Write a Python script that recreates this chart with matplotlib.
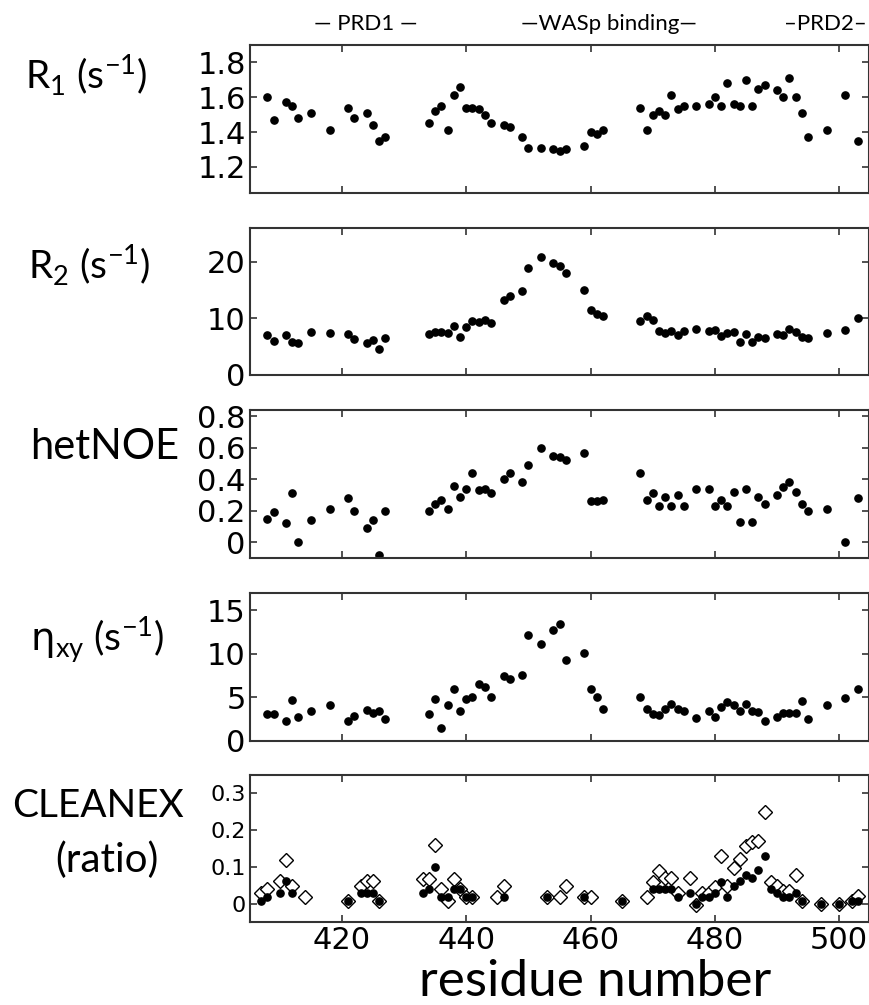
import numpy as np
import matplotlib
matplotlib.use("Agg")
import matplotlib.pyplot as plt

# residues shared by R1, R2, hetNOE and eta panels
res = [408, 409, 411, 412, 413, 415, 418, 421, 422, 424, 425, 426, 427,
       434, 435, 436, 437, 438, 439, 440, 441, 442, 443, 444, 446, 447, 449,
       450, 452, 454, 455, 456, 459, 460, 461, 462, 468, 469, 470, 471, 472,
       473, 474, 475, 477, 479, 480, 481, 482, 483, 484, 485, 486, 487, 488,
       490, 491, 492, 493, 494, 495, 498, 501, 503]

r1 = [1.60, 1.47, 1.57, 1.55, 1.48, 1.51, 1.41, 1.54, 1.48, 1.51, 1.44, 1.35, 1.37,
      1.45, 1.52, 1.55, 1.41, 1.61, 1.66, 1.54, 1.54, 1.53, 1.50, 1.45, 1.44, 1.43, 1.37,
      1.31, 1.31, 1.30, 1.29, 1.30, 1.32, 1.40, 1.39, 1.41, 1.54, 1.41, 1.50, 1.52, 1.50,
      1.61, 1.53, 1.55, 1.55, 1.56, 1.60, 1.55, 1.68, 1.56, 1.55, 1.70, 1.55, 1.65, 1.67,
      1.64, 1.60, 1.71, 1.60, 1.51, 1.37, 1.41, 1.61, 1.35]

r2 = [7.1, 6.1, 7.0, 5.9, 5.6, 7.6, 7.5, 7.2, 6.3, 5.6, 6.2, 4.6, 6.6,
      7.2, 7.6, 7.6, 7.4, 8.7, 6.8, 8.5, 9.5, 9.3, 9.8, 9.2, 13.3, 14.0, 14.8,
      18.9, 20.8, 19.8, 19.3, 18.0, 15.0, 11.5, 10.8, 10.5, 9.5, 10.5, 9.7, 7.8, 7.4,
      7.7, 7.0, 7.8, 8.1, 7.8, 8.0, 6.9, 7.4, 7.6, 5.8, 7.3, 5.8, 6.7, 6.6,
      7.2, 7.1, 8.1, 7.6, 6.7, 6.6, 7.5, 8.0, 10.0]

noe = [0.15, 0.19, 0.12, 0.31, 0.00, 0.14, 0.21, 0.28, 0.20, 0.09, 0.14, -0.08, 0.20,
       0.20, 0.24, 0.27, 0.21, 0.36, 0.29, 0.34, 0.44, 0.33, 0.34, 0.31, 0.40, 0.44, 0.38,
       0.49, 0.60, 0.55, 0.54, 0.52, 0.57, 0.26, 0.26, 0.27, 0.44, 0.27, 0.31, 0.23, 0.29,
       0.23, 0.30, 0.23, 0.34, 0.34, 0.23, 0.27, 0.23, 0.32, 0.13, 0.34, 0.13, 0.29, 0.24,
       0.30, 0.35, 0.38, 0.32, 0.24, 0.20, 0.21, 0.00, 0.28]

eta = [3.1, 3.1, 2.3, 4.7, 2.8, 3.4, 4.1, 2.3, 2.9, 3.6, 3.2, 3.5, 2.5,
       3.1, 4.8, 1.5, 4.1, 6.0, 3.5, 4.8, 5.0, 6.6, 6.2, 5.1, 7.5, 7.1, 7.6,
       12.2, 11.1, 12.7, 13.4, 9.3, 10.1, 6.0, 5.0, 3.7, 5.0, 3.7, 3.1, 3.0, 3.7,
       4.2, 3.7, 3.5, 2.6, 3.5, 2.7, 3.9, 4.5, 4.1, 3.5, 4.2, 3.5, 3.3, 2.3,
       2.8, 3.2, 3.2, 3.2, 4.6, 2.5, 4.1, 4.9, 6.0]

# CLEANEX: filled circles and open diamonds
cl_res = [407, 408, 410, 411, 412, 421, 423, 424, 425, 426, 433, 434, 435, 436, 437,
          438, 439, 440, 441, 446, 453, 459, 465, 470, 471, 472, 473, 474, 476, 477,
          478, 479, 480, 481, 482, 483, 484, 485, 486, 487, 488, 489, 490, 491, 492,
          493, 494, 497, 500, 502, 503]
cl_circ = [0.008, 0.018, 0.029, 0.061, 0.029, 0.008, 0.029, 0.029, 0.029, 0.008, 0.029,
           0.039, 0.099, 0.018, 0.018, 0.039, 0.039, 0.018, 0.018, 0.018, 0.018, 0.018,
           0.008, 0.039, 0.039, 0.039, 0.039, 0.018, 0.029, 0.0, 0.018, 0.018, 0.029,
           0.060, 0.018, 0.049, 0.061, 0.079, 0.069, 0.091, 0.129, 0.039, 0.029, 0.018,
           0.018, 0.029, 0.008, 0.0, 0.0, 0.008, 0.008]

dm_res = [407, 408, 410, 411, 412, 414, 421, 423, 424, 425, 426, 433, 434, 435, 436,
          437, 438, 439, 440, 441, 445, 446, 453, 455, 456, 459, 460, 465, 469, 470,
          471, 472, 473, 474, 476, 477, 478, 479, 480, 481, 482, 483, 484, 485, 486,
          487, 488, 489, 490, 491, 492, 493, 494, 497, 500, 502, 503]
cl_dm = [0.030, 0.041, 0.061, 0.118, 0.049, 0.019, 0.008, 0.049, 0.061, 0.061, 0.008,
         0.068, 0.068, 0.159, 0.039, 0.006, 0.068, 0.039, 0.018, 0.018, 0.018, 0.049,
         0.018, 0.018, 0.049, 0.018, 0.018, 0.008, 0.018, 0.060, 0.090, 0.070, 0.070,
         0.030, 0.070, -0.005, 0.030, 0.030, 0.044, 0.129, 0.049, 0.098, 0.121, 0.158,
         0.167, 0.170, 0.249, 0.060, 0.049, 0.034, 0.034, 0.079, 0.008, 0.0, 0.0,
         0.008, 0.021]

W, H = 869, 1005
fig = plt.figure(figsize=(W / 100, H / 100), dpi=100)

def px_axes(top, bottom):
    return fig.add_axes([250 / W, 1 - bottom / H, 619 / W, (bottom - top) / H])

tick_font = {"family": "DejaVu Sans", "size": 22}
label_font = "Lato"

panels = [
    (45, 193, r1, (1.05, 1.9), [1.2, 1.4, 1.6, 1.8], ["1.2", "1.4", "1.6", "1.8"]),
    (228, 375, r2, (0, 26), [0, 10, 20], ["0", "10", "20"]),
    (410, 558, noe, (-0.1, 0.84), [0, 0.2, 0.4, 0.6, 0.8], ["0", "0.2", "0.4", "0.6", "0.8"]),
    (593, 741, eta, (0, 17), [0, 5, 10, 15], ["0", "5", "10", "15"]),
]

axes = []
for top, bottom, vals, ylim, yt, ytl in panels:
    ax = px_axes(top, bottom)
    ax.plot(res, vals, "o", color="black", ms=5.2)
    ax.set_ylim(*ylim)
    ax.set_yticks(yt)
    ax.set_yticklabels(ytl, fontdict=tick_font)
    axes.append(ax)

ax5 = px_axes(775, 922)
ax5.plot(dm_res, cl_dm, "D", mfc="white", mec="black", mew=1.0, ms=7.5)
ax5.plot(cl_res, cl_circ, "o", color="black", ms=5.2)
ax5.set_ylim(-0.05, 0.35)
ax5.set_yticks([0, 0.1, 0.2, 0.3])
ax5.set_yticklabels(["0", "0.1", "0.2", "0.3"], fontdict={"family": "DejaVu Sans", "size": 16})
axes.append(ax5)

for ax in axes:
    ax.set_xlim(405.2, 504.8)
    ax.set_xticks([420, 440, 460, 480, 500])
    ax.tick_params(direction="in", top=True, right=True, length=5, width=1.2,
                   color="#333333", pad=3)
    for s in ax.spines.values():
        s.set_linewidth(1.5)
        s.set_color("#333333")
    if ax is not ax5:
        ax.set_xticklabels([])
ax5.set_xticklabels(["420", "440", "460", "480", "500"], fontdict=tick_font)

def ftext(x, y, s, size, ha="left"):
    fig.text(x / W, 1 - y / H, s, fontsize=size, family=label_font, ha=ha, va="center")

ftext(25, 75, r"R$_\mathregular{1}$ (s$^\mathregular{-1}$)", 28)
ftext(28, 265, r"R$_\mathregular{2}$ (s$^\mathregular{-1}$)", 28)
ftext(30, 447, "hetNOE", 30)
ftext(30, 640, r"$\mathrm{\eta}_\mathregular{xy}$ (s$^\mathregular{-1}$)", 28)
ftext(12, 806, "CLEANEX", 28)
ftext(55, 860, "(ratio)", 29)

fig.text(595 / W, 1 - 996 / H, "residue number", fontsize=37, family=label_font,
         ha="center", va="baseline")

fig.text(366 / W, 1 - 24 / H, "\u2014 PRD1 \u2014", fontsize=16, family=label_font, ha="center", va="center")
fig.text(609 / W, 1 - 24 / H, "\u2014WASp binding\u2014", fontsize=16, family=label_font, ha="center", va="center")
fig.text(867 / W, 1 - 24 / H, "\u2013PRD2\u2013", fontsize=16, family=label_font, ha="right", va="center")

fig.savefig("out.png", dpi=100)
